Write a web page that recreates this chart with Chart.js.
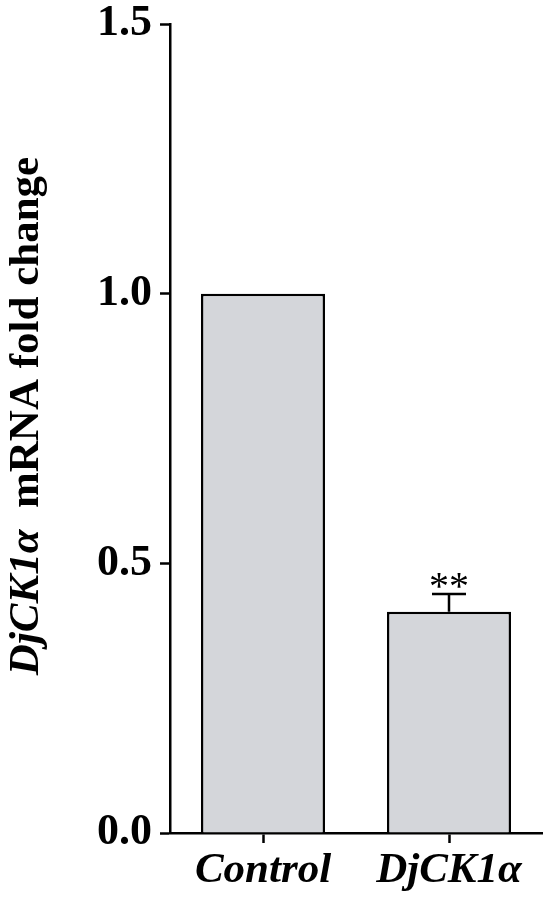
<!DOCTYPE html>
<html>
<head>
<meta charset="utf-8">
<script src="https://cdn.jsdelivr.net/npm/chart.js@4"></script>
<style>
  html, body { margin: 0; padding: 0; background: #fff; }
  #wrap { width: 550px; height: 901px; position: relative; }
</style>
</head>
<body>
<div id="wrap"><canvas id="chart"></canvas></div>
<script>
'use strict';
// ---------- data ----------
const categories = ['Control', 'DjCK1α'];
const foldChange = [1.0, 0.41];
const errorUpper = [null, 0.443];        // top of SEM whisker
const markers    = ['', '**'];
const yTicks     = [0, 0.5, 1.0, 1.5];

const SERIF = '"Liberation Serif", "Times New Roman", serif';

// Error whiskers, significance stars and the mixed-style y title
const extras = {
    id: 'extras',
    afterDatasetsDraw(chart) {
        const { ctx, scales: { x, y } } = chart;
        const meta = chart.getDatasetMeta(0);
        ctx.save();
        ctx.strokeStyle = '#000';
        ctx.lineWidth = 2.5;
        meta.data.forEach((bar, i) => {
            if (errorUpper[i] == null) return;
            const yTop = y.getPixelForValue(errorUpper[i]);
            const yBase = y.getPixelForValue(foldChange[i]);
            ctx.beginPath();
            ctx.moveTo(bar.x, yBase);
            ctx.lineTo(bar.x, yTop);
            ctx.moveTo(bar.x - 17, yTop);
            ctx.lineTo(bar.x + 17, yTop);
            ctx.stroke();
            if (markers[i]) {
                ctx.fillStyle = '#000';
                ctx.font = '40px ' + SERIF;
                ctx.textAlign = 'center';
                ctx.textBaseline = 'alphabetic';
                // put the bottom of the star glyphs ~6px above the cap
                const m = ctx.measureText(markers[i]);
                ctx.fillText(markers[i], bar.x, yTop - 6 - m.actualBoundingBoxDescent);
            }
        });

        // y title: italic gene name + upright remainder, rotated
        const part1 = 'DjCK1α';
        const part2 = '  mRNA fold change';
        const f1 = 'italic bold 43px ' + SERIF;
        const f2 = 'bold 43px ' + SERIF;
        ctx.font = f1; const w1 = ctx.measureText(part1).width;
        ctx.font = f2; const w2 = ctx.measureText(part2).width;
        const cy = 416;
        ctx.translate(38, cy);
        ctx.rotate(-Math.PI / 2);
        ctx.fillStyle = '#000';
        ctx.textAlign = 'left';
        ctx.textBaseline = 'alphabetic';
        const start = -(w1 + w2) / 2;
        ctx.font = f1; ctx.fillText(part1, start, 0);
        ctx.font = f2; ctx.fillText(part2, start + w1, 0);
        ctx.restore();
    }
};

new Chart(document.getElementById('chart'), {
    type: 'bar',
    data: {
        labels: categories,
        datasets: [{
            data: foldChange,
            backgroundColor: '#d4d6da',
            borderColor: '#000',
            borderWidth: 2.5,
            borderSkipped: 'bottom',
            categoryPercentage: 1.0,
            barPercentage: 0.667,
        }],
    },
    options: {
        responsive: true,
        maintainAspectRatio: false,
        animation: false,
        layout: { padding: { top: 24, right: 8, left: 0, bottom: 0 } },
        plugins: { legend: { display: false }, tooltip: { enabled: false } },
        scales: {
            x: {
                grid: { display: true, drawOnChartArea: false, offset: false,
                        tickLength: 10, tickColor: '#000', tickWidth: 2.5 },
                border: { color: '#000', width: 2.5 },
                ticks: {
                    color: '#000', padding: 2,
                    font: { family: SERIF, size: 43, style: 'italic', weight: 'bold' },
                },
                afterFit(scale) { scale.height = 68; },
            },
            y: {
                min: 0, max: 1.5,
                afterBuildTicks(scale) { scale.ticks = yTicks.map(v => ({ value: v })); },
                grid: { display: true, drawOnChartArea: false,
                        tickLength: 10, tickColor: '#000', tickWidth: 2.5 },
                border: { color: '#000', width: 2.5 },
                ticks: {
                    color: '#000', padding: 8,
                    font: { family: SERIF, size: 44, weight: 'bold' },
                    callback: v => Number(v).toFixed(1),
                },
                afterFit(scale) {
                    scale.width = 170;
                    scale.paddingTop = 0;
                    scale.paddingBottom = 0;
                },
            },
        },
    },
    plugins: [extras],
});
</script>
</body>
</html>
